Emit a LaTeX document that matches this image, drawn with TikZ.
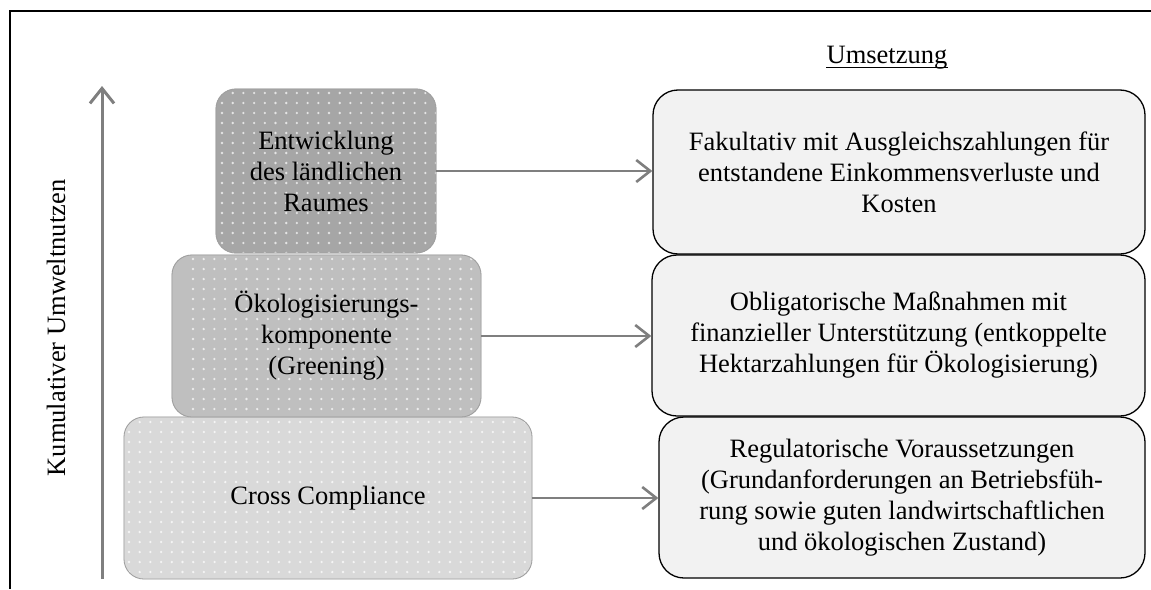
\documentclass[tikz,border=0pt]{standalone}
\usepackage{fontspec}
\setmainfont{Liberation Serif}
\usetikzlibrary{arrows.meta,backgrounds}
\definecolor{boxA}{HTML}{A6A6A6}
\definecolor{boxB}{HTML}{BFBFBF}
\definecolor{boxC}{HTML}{D9D9D9}
\definecolor{rfill}{HTML}{F2F2F2}
\definecolor{arrowgray}{HTML}{7F7F7F}
\definecolor{lborder}{HTML}{A0A0A0}
\begin{document}
\begin{tikzpicture}[x=1pt,y=-1pt,
  every node/.style={font=\fontsize{26.5}{31}\selectfont},
  levelbox/.style={rectangle, rounded corners=20pt, draw=lborder, line width=0.8pt, align=center, inner sep=0pt},
  implbox/.style={rectangle, rounded corners=25pt, draw=black, line width=1.3pt, fill=rfill, align=center, inner sep=0pt},
  conn/.style={draw=arrowgray, line width=2.6pt, -{Straight Barb[length=14pt,width=22pt]}},
  dotA/.style={fill=white!70!boxA},
  dotB/.style={fill=white!70!boxB},
  dotC/.style={fill=white!75!boxC},
]
\useasboundingbox (0,0) rectangle (1151,589);

% frame
\coordinate (ftl) at (10,11);
\coordinate (ftr) at (1151,11);
\coordinate (fbl) at (10,589);
\draw[line width=1.2pt] (ftr) -- (ftl) -- (fbl);

% level boxes
\node[levelbox, minimum width=220pt, minimum height=164pt] (b1) at (326,171) {Entwicklung\\des ländlichen\\Raumes};
\node[levelbox, minimum width=309pt, minimum height=162pt] (b2) at (326.5,336) {Ökologisierungs-\\komponente\\(Greening)};
\node[levelbox, minimum width=408pt, minimum height=162pt] (b3) at (328,498) {Cross Compliance};

% implementation boxes
\node[implbox, minimum width=492pt, minimum height=164pt] (r1) at (899,172) {Fakultativ mit Ausgleichszahlungen für\\entstandene Einkommensverluste und\\Kosten};
\node[implbox, minimum width=493pt, minimum height=161pt] (r2) at (898.5,335.5) {Obligatorische Maßnahmen mit\\finanzieller Unterstützung (entkoppelte\\Hektarzahlungen für Ökologisierung)};
\node[implbox, minimum width=486pt, minimum height=161pt] (r3) at (902,497.5) {Regulatorische Voraussetzungen\\(Grundanforderungen an Betriebsfüh-\\rung sowie guten landwirtschaftlichen\\und ökologischen Zustand)};

% fills and dot patterns behind the level boxes
\begin{scope}[on background layer]
  \fill[boxA, rounded corners=20pt] (b1.south west) rectangle (b1.north east);
  \begin{scope}
    \clip[rounded corners=20pt] (b1.south west) rectangle (b1.north east);
    \foreach \x in {222,232.7,...,437} \foreach \y in {93,103,...,254} \fill[dotA] (\x,\y) circle (1.3pt);
  \end{scope}
  \fill[boxB, rounded corners=20pt] (b2.south west) rectangle (b2.north east);
  \begin{scope}
    \clip[rounded corners=20pt] (b2.south west) rectangle (b2.north east);
    \foreach \x in {193,203.7,...,482} \foreach \y in {259,269,...,418} \fill[dotB] (\x,\y) circle (1.3pt);
  \end{scope}
  \fill[boxC, rounded corners=20pt] (b3.south west) rectangle (b3.north east);
  \begin{scope}
    \clip[rounded corners=20pt] (b3.south west) rectangle (b3.north east);
    \foreach \x in {129,139.7,...,533} \foreach \y in {422,432,...,580} \fill[dotC] (\x,\y) circle (1.3pt);
  \end{scope}
\end{scope}

% connectors
\draw[conn] (b1.east) -- (b1.east -| r1.west);
\draw[conn] (b2.east) -- (b2.east -| r2.west);
\draw[conn] (b3.east) -- (b3.east -| r3.west);

% vertical axis arrow
\coordinate (ybot) at (102,579);
\coordinate (ytop) at (102,86);
\draw[conn, line width=3pt, -{Straight Barb[length=15pt,width=24pt]}] (ybot) -- (ytop);

% labels
\node[rotate=90, anchor=base, inner sep=0pt] (ylab) at (65,328) {Kumulativer Umweltnutzen};
\node[anchor=base, inner sep=0pt] (um) at (887,63.3) {Umsetzung};
\draw[line width=1.2pt] ([yshift=-4pt]um.base west) -- ([yshift=-4pt]um.base east);
\end{tikzpicture}
\end{document}
